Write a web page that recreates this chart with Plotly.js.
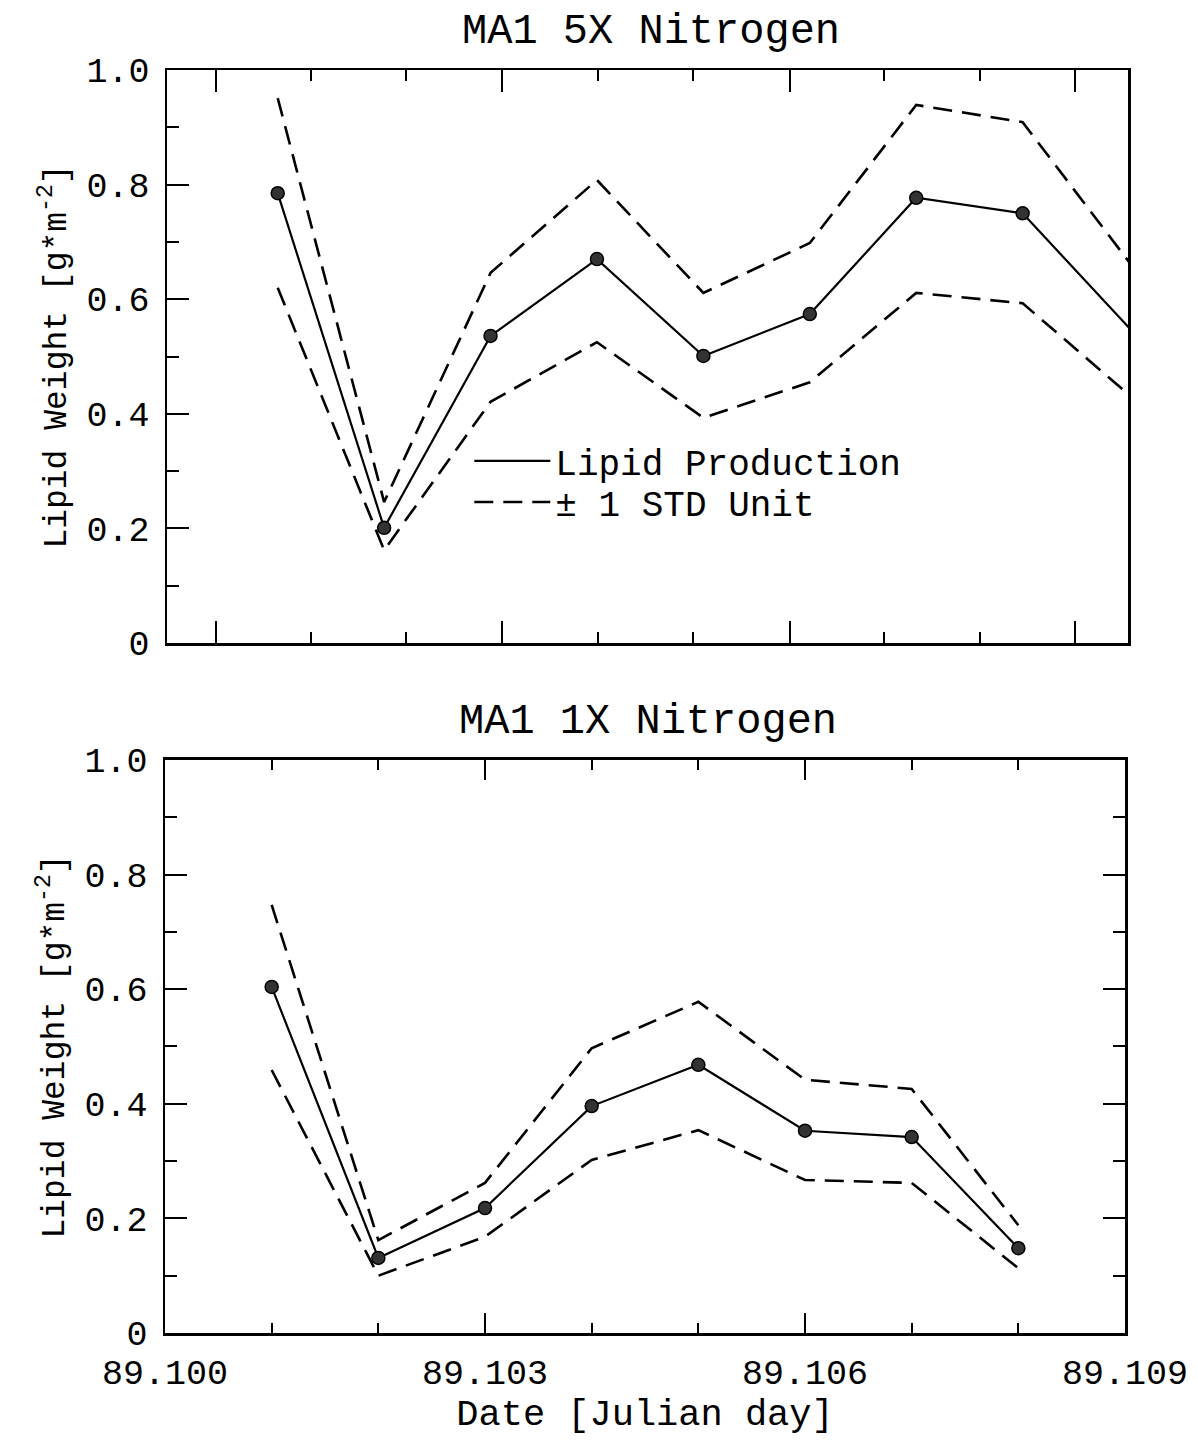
<!DOCTYPE html>
<html><head><meta charset="utf-8">
<script src="https://cdn.plot.ly/plotly-3.0.1.min.js"></script>
<style>body{margin:0;background:#fff}#chart{width:1198px;height:1440px}</style>
</head><body><div id="chart"></div>
<script>
// ---- data ----
const daysTop = [89.101, 89.102, 89.103, 89.104, 89.105, 89.106, 89.107, 89.108, 89.109];
const lipid5x = [0.785, 0.201, 0.536, 0.670, 0.501, 0.574, 0.777, 0.750, 0.550];
const upper5x = [0.951, 0.246, 0.646, 0.808, 0.611, 0.698, 0.939, 0.909, 0.665];
const lower5x = [0.620, 0.162, 0.421, 0.525, 0.393, 0.455, 0.611, 0.593, 0.433];

const daysBottom = [89.101, 89.102, 89.103, 89.104, 89.105, 89.106, 89.107, 89.108];
const lipid1x = [0.604, 0.131, 0.218, 0.396, 0.468, 0.353, 0.342, 0.148];
const upper1x = [0.747, 0.162, 0.262, 0.497, 0.578, 0.442, 0.426, 0.188];
const lower1x = [0.459, 0.100, 0.168, 0.302, 0.354, 0.267, 0.262, 0.113];

const yTickVals = [0, 0.2, 0.4, 0.6, 0.8, 1.0];
const yTickText = ['0', '0.2', '0.4', '0.6', '0.8', '1.0'];
const topXMajorTicks = [89.10042, 89.10311, 89.10581, 89.10849];
const topXMinorTicks = [89.10131, 89.10221, 89.10401, 89.10490, 89.10670, 89.10760];
const topRightMajorTicks = [0.155, 0.323, 0.494, 0.661, 0.832];
const topRightMinorTicks = [0.070, 0.239, 0.408, 0.578, 0.747, 0.914];

const titleTop = 'MA1 5X Nitrogen';
const titleBottom = 'MA1 1X Nitrogen';
const yTitle = 'Lipid Weight [g*m<sup>-2</sup>]';
const xTitle = 'Date [Julian day]';
const legendMain = 'Lipid Production';
const legendStd = '± 1 STD Unit';

// ---- styling ----
const FONT = 'Liberation Mono, DejaVu Sans Mono, monospace';
const topRange = [89.09996, 89.10899];
const botRange = [89.100, 89.109];
const dashStyle = '19px,10px';
const markerStyle = {symbol: 'circle', size: 13, color: '#333', line: {color: '#000', width: 1.5}};

function inRange(xs, ys, r) {
  const ox = [], oy = [];
  xs.forEach((x, i) => { if (x >= r[0] && x <= r[1]) { ox.push(x); oy.push(ys[i]); } });
  return {x: ox, y: oy};
}
const topMarkers = inRange(daysTop, lipid5x, topRange);

const traces = [
  {x: daysTop, y: lipid5x, xaxis: 'x', yaxis: 'y', mode: 'lines', name: legendMain, legend: 'legend',
   legendgroup: 'main', line: {color: '#000', width: 2.2}},
  {x: daysTop, y: upper5x, xaxis: 'x', yaxis: 'y', mode: 'lines', name: legendStd, legend: 'legend2',
   legendgroup: 'std', line: {color: '#000', width: 2.6, dash: dashStyle}},
  {x: daysTop, y: lower5x, xaxis: 'x', yaxis: 'y', mode: 'lines', name: legendStd, showlegend: false,
   legend: 'legend2', legendgroup: 'std', line: {color: '#000', width: 2.6, dash: dashStyle}},
  {x: topMarkers.x, y: topMarkers.y, xaxis: 'x', yaxis: 'y', mode: 'markers', showlegend: false,
   marker: markerStyle},

  {x: daysBottom, y: lipid1x, xaxis: 'x2', yaxis: 'y2', mode: 'lines', name: legendMain, showlegend: false,
   legendgroup: 'main', line: {color: '#000', width: 2.2}},
  {x: daysBottom, y: upper1x, xaxis: 'x2', yaxis: 'y2', mode: 'lines', name: legendStd, showlegend: false,
   legend: 'legend2', legendgroup: 'std', line: {color: '#000', width: 2.6, dash: dashStyle}},
  {x: daysBottom, y: lower1x, xaxis: 'x2', yaxis: 'y2', mode: 'lines', name: legendStd, showlegend: false,
   legend: 'legend2', legendgroup: 'std', line: {color: '#000', width: 2.6, dash: dashStyle}},
  {x: daysBottom, y: lipid1x, xaxis: 'x2', yaxis: 'y2', mode: 'markers', showlegend: false,
   marker: markerStyle}
];

const tickFont = {family: FONT, size: 35, color: '#000'};
const baseAxis = {
  showline: true, linecolor: '#000', linewidth: 2.5, showgrid: false, zeroline: false,
  ticks: 'inside', tickcolor: '#000', tickwidth: 2, tickfont: tickFont
};
function yAxis(domain, anchor) {
  return Object.assign({}, baseAxis, {
    domain: domain, anchor: anchor, range: [0, 1], tickmode: 'array',
    tickvals: yTickVals, ticktext: yTickText, ticklen: 22, ticklabelstandoff: 8,
    minor: {tickmode: 'linear', tick0: 0, dtick: 0.1, ticks: 'inside', ticklen: 12, tickwidth: 2, tickcolor: '#000'},
    title: {text: yTitle, font: {family: FONT, size: 33, color: '#000'}, standoff: 10}
  });
}
const legendFont = {family: FONT, size: 36, color: '#000'};

const layout = {
  width: 1198, height: 1440,
  margin: {l: 165, r: 70, t: 70, b: 107},
  paper_bgcolor: '#fff', plot_bgcolor: '#fff',
  font: {family: FONT, color: '#000'},
  showlegend: true,
  legend: {x: 0.316, y: 0.6904, xanchor: 'left', yanchor: 'middle', bgcolor: 'rgba(0,0,0,0)',
           font: legendFont, itemwidth: 76},
  legend2: {x: 0.316, y: 0.6579, xanchor: 'left', yanchor: 'middle', bgcolor: 'rgba(0,0,0,0)',
            font: legendFont, itemwidth: 76},
  xaxis: Object.assign({}, baseAxis, {
    domain: [0.0021, 1], anchor: 'y', range: topRange, mirror: 'ticks',
    tickmode: 'array', tickvals: topXMajorTicks, showticklabels: false, ticklen: 22,
    minor: {tickvals: topXMinorTicks, ticks: 'inside', ticklen: 11, tickwidth: 2, tickcolor: '#000'}
  }),
  yaxis: Object.assign(yAxis([0.5463, 1], 'x'), {mirror: true}),
  yaxis3: {overlaying: 'y', side: 'right', anchor: 'x', range: [0, 1], showline: false,
           showgrid: false, zeroline: false, showticklabels: false, tickmode: 'array',
           tickvals: topRightMajorTicks, ticks: 'inside', ticklen: 22, tickwidth: 2, tickcolor: '#000',
           minor: {tickvals: topRightMinorTicks, ticks: 'inside', ticklen: 11, tickwidth: 2, tickcolor: '#000'}},
  xaxis2: Object.assign({}, baseAxis, {
    domain: [0, 0.9969], anchor: 'y2', range: botRange, mirror: 'ticks',
    tickmode: 'linear', tick0: 89.1, dtick: 0.003, tickformat: '.3f', ticklen: 20, ticklabelstandoff: 6,
    minor: {tickmode: 'linear', tick0: 89.1, dtick: 0.001, ticks: 'inside', ticklen: 10, tickwidth: 2, tickcolor: '#000'},
    title: {text: xTitle, font: {family: FONT, size: 37, color: '#000'}, standoff: 6}
  }),
  yaxis2: Object.assign(yAxis([0, 0.4537], 'x2'), {mirror: 'ticks'}),
  annotations: [
    {text: titleTop, xref: 'paper', yref: 'paper', x: 0.5047, y: 1.030, xanchor: 'center', yanchor: 'middle',
     showarrow: false, font: {family: FONT, size: 42, color: '#000'}},
    {text: titleBottom, xref: 'paper', yref: 'paper', x: 0.5016, y: 0.4838, xanchor: 'center', yanchor: 'middle',
     showarrow: false, font: {family: FONT, size: 42, color: '#000'}}
  ]
};

Plotly.newPlot('chart', traces, layout, {displayModeBar: false, staticPlot: true});
</script>
</body></html>
